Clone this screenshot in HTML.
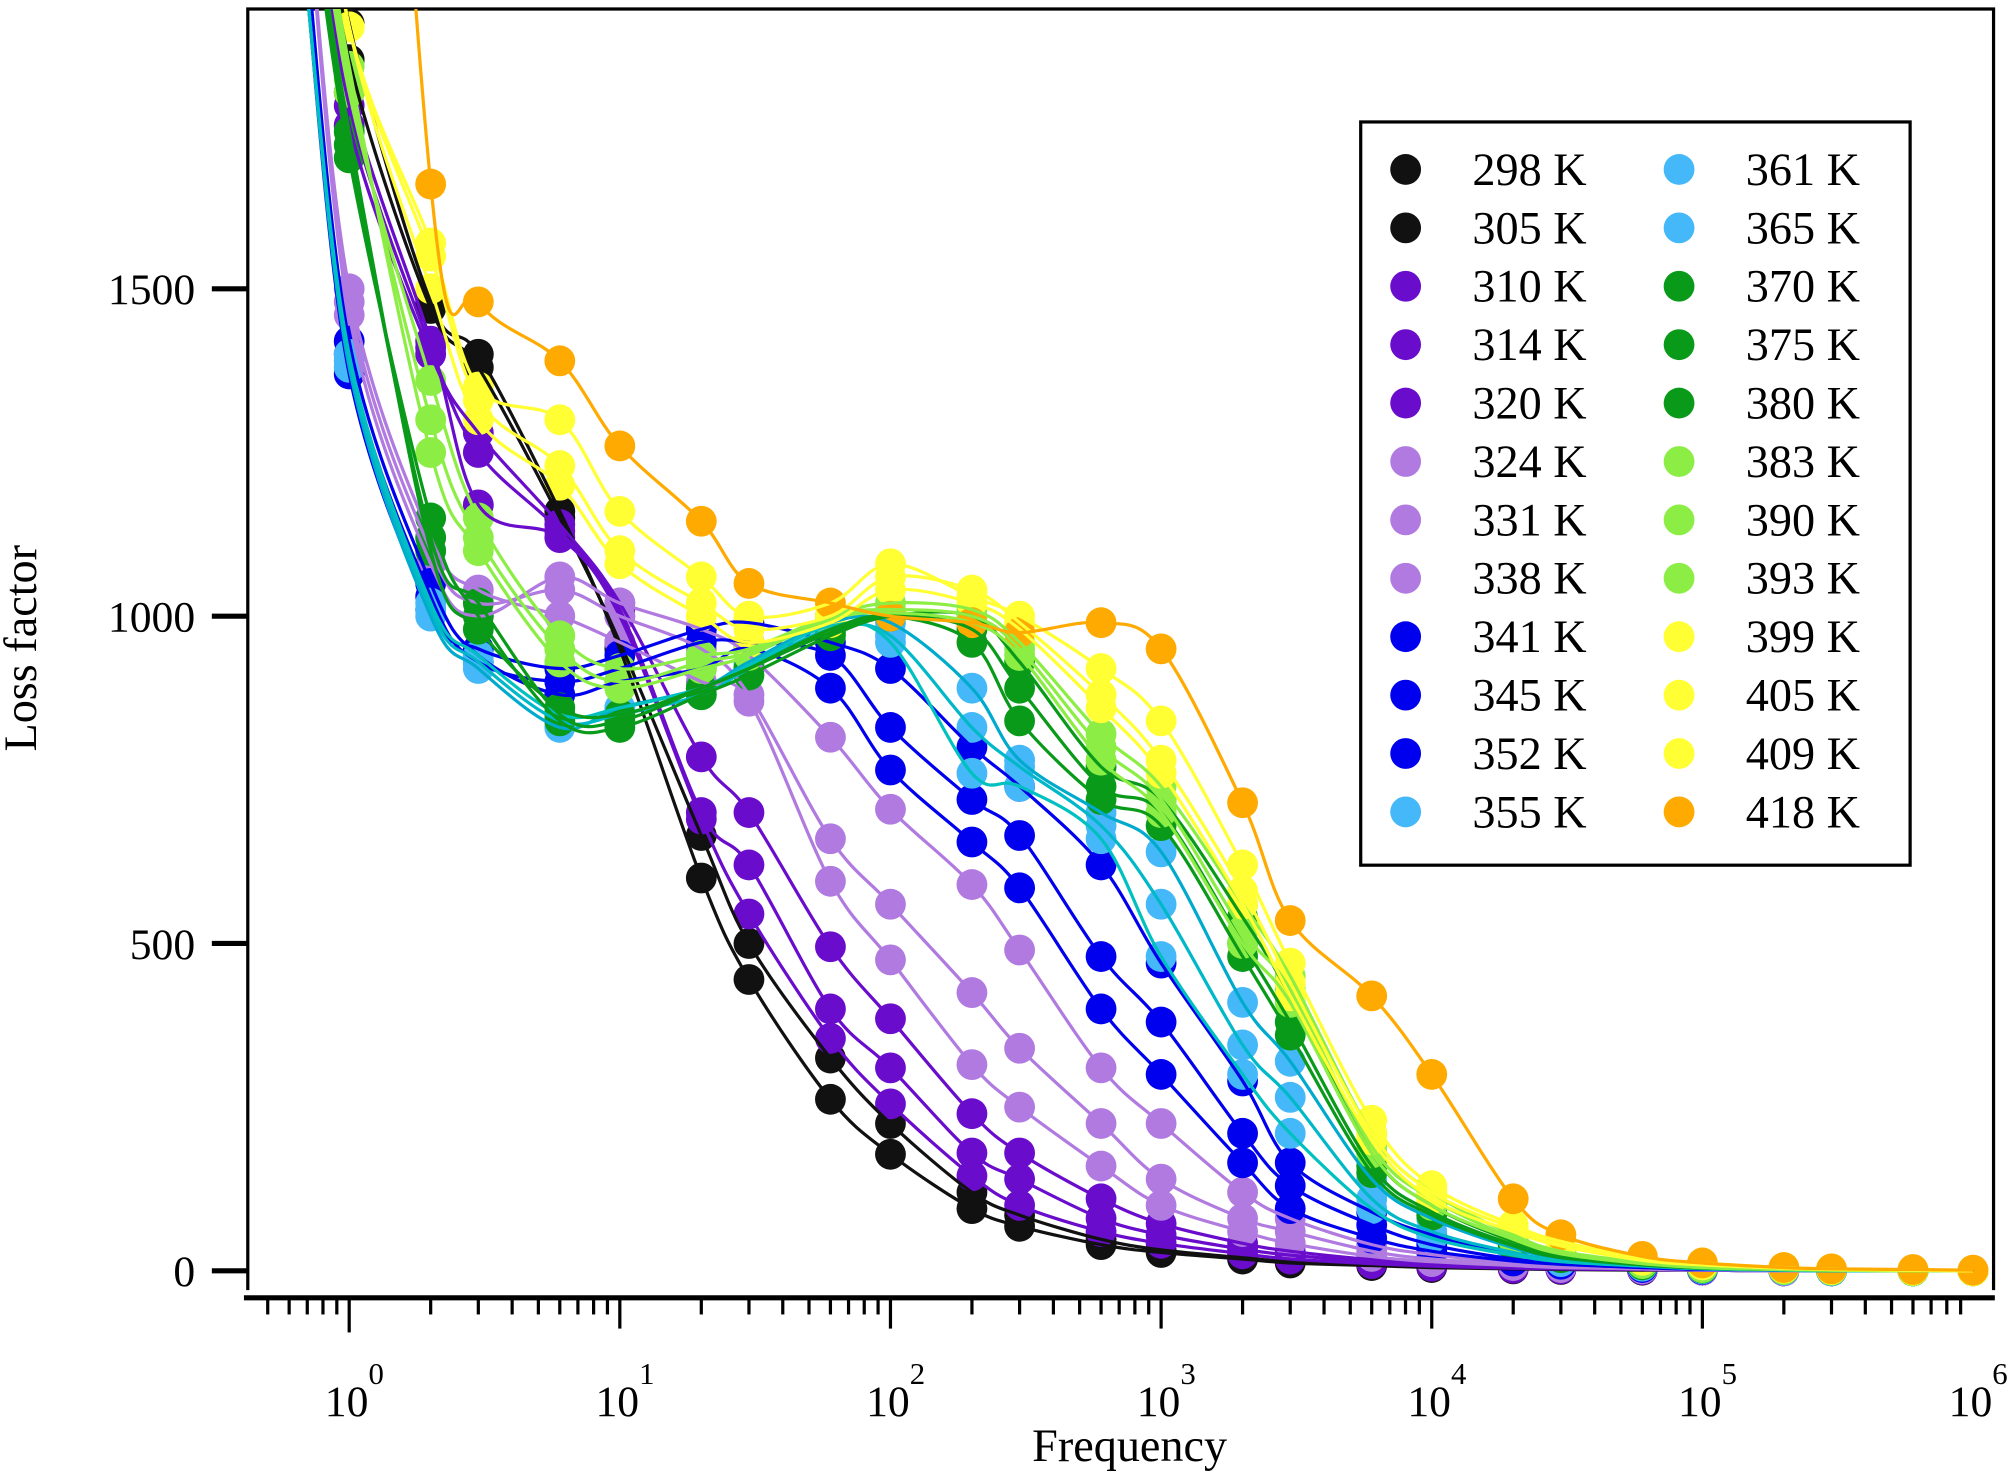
<!DOCTYPE html>
<html><head><meta charset="utf-8"><style>
html,body{margin:0;padding:0;background:#fff}
svg{display:block}
text{font-family:"Liberation Serif",serif;fill:#000}
</style></head><body>
<svg id="chart" width="2009" height="1478" viewBox="0 0 1565 1151.4" xmlns="http://www.w3.org/2000/svg">
<defs><clipPath id="clip"><rect x="193" y="7" width="1360" height="1003"/></clipPath></defs>
<g id="frame">
<path d="M193 1005 V7 H1553 V1005" fill="none" stroke="#000" stroke-width="2.5"/>
<line x1="190" y1="1011" x2="1554" y2="1011" stroke="#000" stroke-width="4"/>
</g>
<g id="xaxis"></g>
<g id="yaxis"></g>
<g id="series" clip-path="url(#clip)"></g>
<text x="880" y="1138" font-size="36" text-anchor="middle">Frequency</text>
<text transform="translate(28,505) rotate(-90)" font-size="36" text-anchor="middle">Loss factor</text>
<g id="legend">
<rect x="1060" y="95" width="428" height="579" fill="#fff" stroke="#000" stroke-width="2.5"/>
</g>
</svg>
<script>
const freqs=[0.7,1,2,3,6,10,20,30,60,100,200,300,600,1e3,2e3,3e3,6e3,1e4,2e4,3e4,6e4,1e5,2e5,3e5,6e5,1e6];
const temps=["298 K","305 K","310 K","314 K","320 K","324 K","331 K","338 K","341 K","345 K","352 K","355 K","361 K","365 K","370 K","375 K","380 K","383 K","390 K","393 K","399 K","405 K","409 K","418 K"];
const s298=[2300,1905,1480,1400,1160,950,600,445,262,178,95,68,40,28,18,12,8,5,3,2,1,1,0,0,0,0];
const s305=[2250,1850,1470,1380,1150,960,665,500,325,225,120,85,48,32,20,14,9,6,4,3,2,1,0,0,0,0];
const s310=[2200,1800,1420,1170,1120,1000,690,545,355,255,145,100,60,42,26,18,11,7,4,3,2,1,0,0,0,0];
const s314=[2200,1780,1410,1250,1130,1010,700,620,400,310,180,140,80,55,33,24,14,9,5,3,2,1,0,0,0,0];
const s320=[2150,1750,1400,1280,1140,1020,785,700,495,385,240,180,110,72,42,30,17,11,6,4,2,1,0,0,0,0];
const s324=[2100,1500,1120,1040,1000,960,900,870,595,475,315,250,160,100,60,42,22,14,8,5,3,1,0,0,0,0];
const s331=[2100,1480,1100,1020,1040,1000,950,880,660,560,425,340,225,140,80,60,30,18,10,6,3,1,0,0,0,0];
const s338=[2100,1460,1080,1000,1060,1020,980,940,815,705,590,490,310,225,120,80,40,25,12,8,4,2,0,0,0,0];
const s341=[2000,1420,1050,940,880,900,920,950,890,765,655,585,400,300,165,95,50,30,15,10,5,2,1,0,0,0];
const s345=[2000,1400,1030,930,900,920,960,960,940,830,720,665,480,380,210,130,70,40,18,12,6,3,1,0,0,0];
const s352=[1950,1370,1010,950,920,940,980,990,960,920,800,740,620,470,290,165,90,55,25,15,7,3,1,0,0,0];
const s355=[1950,1380,1000,920,830,860,890,930,990,990,890,780,700,640,410,320,140,80,35,20,9,4,1,0,0,0];
const s361=[1950,1390,1010,930,840,850,880,920,980,970,830,770,680,560,345,265,110,60,28,16,8,3,1,0,0,0];
const s365=[1950,1400,1020,940,850,860,890,925,985,960,760,740,660,480,300,210,95,50,24,14,7,3,1,0,0,0];
const s370=[2150,1700,1150,1000,840,830,880,910,970,1000,1000,930,770,720,540,420,180,100,45,25,11,5,2,1,0,0];
const s375=[2150,1720,1120,1020,850,840,890,920,975,1000,980,890,740,700,500,380,160,90,40,22,10,5,2,1,0,0];
const s380=[2150,1740,1100,980,860,850,890,920,980,1000,960,840,720,680,480,360,150,85,38,20,9,4,2,1,0,0];
const s383=[2250,1800,1360,1150,970,920,940,950,1000,1020,1010,960,820,740,560,450,210,120,55,30,13,6,2,1,0,0];
const s390=[2250,1820,1300,1120,950,900,930,945,1000,1010,1000,950,800,720,520,430,190,110,50,28,12,5,2,1,0,0];
const s393=[2250,1840,1250,1100,930,890,920,940,995,1005,990,940,780,700,500,410,180,100,48,26,11,5,2,1,0,0];
const s399=[2400,1900,1570,1350,1300,1160,1060,1000,1020,1080,1030,1000,920,840,620,470,230,130,70,45,20,12,5,3,1,0];
const s405=[2400,1900,1550,1330,1230,1100,1020,980,1000,1060,1040,990,880,780,580,440,210,120,65,40,18,10,4,2,1,0];
const s409=[2400,1900,1500,1300,1200,1080,1000,960,990,1040,1020,980,860,760,560,420,200,110,60,38,16,9,4,2,1,0];
const s418=[5000,3500,1660,1480,1390,1260,1145,1050,1020,1000,990,975,990,950,715,535,420,300,110,55,22,12,5,3,2,1];
const allSeries=[s298,s305,s310,s314,s320,s324,s331,s338,s341,s345,s352,s355,s361,s365,s370,s375,s380,s383,s390,s393,s399,s405,s409,s418];
const markerColors=["#111","#111","#6a0ccc","#6a0ccc","#6a0ccc","#b07ae0","#b07ae0","#b07ae0","#0000ee","#0000ee","#0000ee","#44b8f8","#44b8f8","#44b8f8","#0a9a1a","#0a9a1a","#0a9a1a","#8cee44","#8cee44","#8cee44","#ffff33","#ffff33","#ffff33","#ffaa00"];
const lineColors=["#111","#111","#6a0ccc","#6a0ccc","#6a0ccc","#b07ae0","#b07ae0","#b07ae0","#0000ee","#0000ee","#0000ee","#00aacc","#00b8c8","#00c0c0","#0a9a1a","#0a9a1a","#0a9a1a","#8cee44","#8cee44","#8cee44","#ffff33","#ffff33","#ffff33","#ffaa00"];
const yTicks=[0,500,1000,1500];
const xDecades=[0,1,2,3,4,5,6];

const NS="http://www.w3.org/2000/svg";
function X(f){return 272+(1537-272)/6*Math.log10(f);}
function Y(v){return 990-v*0.51;}
function mk(tag,attrs,parent){const e=document.createElementNS(NS,tag);for(const k in attrs)e.setAttribute(k,attrs[k]);parent.appendChild(e);return e;}

const xa=document.getElementById('xaxis');
for(let d=-1;d<=5;d++){for(let m=1;m<10;m++){const f=m*Math.pow(10,d);const x=X(f);if(x<200||x>1545)continue;
 const major=m===1;const t=mk('line',{x1:x,y1:1011,x2:x,y2:major?(d===0?1038:1035):1024,stroke:'#000','stroke-width':2.5},xa);
 
 }}
xDecades.forEach(d=>{const x=X(Math.pow(10,d));
 const t=mk('text',{x:x-2,y:1103,'font-size':34,'text-anchor':'middle'},xa);t.textContent='10';
 
 
 const s=mk('text',{x:x+21,y:1078,'font-size':24,'text-anchor':'middle'},xa);s.textContent=String(d);
 
 });
const ya=document.getElementById('yaxis');
yTicks.forEach(v=>{const y=Y(v);
 const l=mk('line',{x1:165,y1:y,x2:193,y2:y,stroke:'#000','stroke-width':4},ya);
 
 
 const t=mk('text',{x:152,y:y+12,'font-size':34,'text-anchor':'end'},ya);t.textContent=String(v);
 
 });

function smooth(pts){let d='M'+pts[0][0]+' '+pts[0][1];
 for(let i=0;i<pts.length-1;i++){const p0=pts[Math.max(0,i-1)],p1=pts[i],p2=pts[i+1],p3=pts[Math.min(pts.length-1,i+2)];
  const c1=[p1[0]+(p2[0]-p0[0])/6,p1[1]+(p2[1]-p0[1])/6],c2=[p2[0]-(p3[0]-p1[0])/6,p2[1]-(p3[1]-p1[1])/6];
  d+=' C'+c1[0].toFixed(1)+' '+c1[1].toFixed(1)+' '+c2[0].toFixed(1)+' '+c2[1].toFixed(1)+' '+p2[0].toFixed(1)+' '+p2[1].toFixed(1);}
 return d;}
const sg=document.getElementById('series');
const mg=mk('g',{},sg);
const lg=mk('g',{},sg);
allSeries.forEach((s,i)=>{
 s.forEach((v,j)=>{if(freqs[j]<1)return;
  const c=mk('circle',{cx:X(freqs[j]),cy:Y(v),r:12,fill:markerColors[i]},mg);
  
  });
});
allSeries.forEach((s,i)=>{
 const pts=s.map((v,j)=>[X(freqs[j]),Y(v)]);
 const p=mk('path',{d:smooth(pts),fill:'none',stroke:lineColors[i],'stroke-width':2.5},lg);
 
 
});
const leg=document.getElementById('legend');
temps.forEach((t,i)=>{const col=i<12?0:1;const row=i%12;const y=132+row*45.5;const mx=col?1308:1095;
 const c=mk('circle',{cx:mx,cy:y,r:12,fill:markerColors[i]},leg);
 
 
 const tx=mk('text',{x:mx+52,y:y+12,'font-size':36},leg);tx.textContent=t;
 
 });
</script>
</body></html>
